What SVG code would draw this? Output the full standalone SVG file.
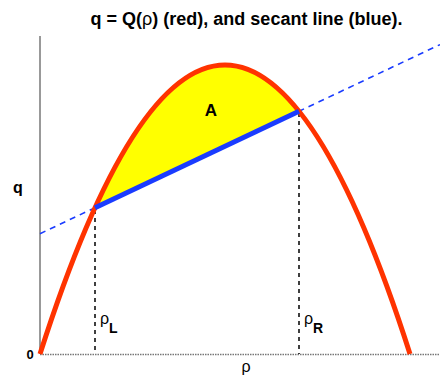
<svg xmlns="http://www.w3.org/2000/svg" width="440" height="379" viewBox="0 0 440 379">
<style>
text{font-family:"Liberation Sans",Arial,sans-serif;fill:#000}
.b{font-weight:bold}
.vd{stroke:#000;stroke-width:1.5;stroke-dasharray:4,4;fill:none}
</style>
<rect width="440" height="379" fill="#fff"/>
<g id="axes">
<line x1="40" y1="36" x2="40" y2="354" stroke="#777" stroke-width="1.5"/>
<line x1="40" y1="354.5" x2="440" y2="354.5" stroke="#777" stroke-width="1.5" stroke-dasharray="1.5,1"/>
</g>
<g id="area">
<path d="M95,207.7 Q197,-16.2 299,111.2 Z" fill="#ffff00"/>
</g>
<g id="connectors">
<line class="vd" x1="95" y1="210" x2="95" y2="354"/>
<line class="vd" x1="299" y1="113" x2="299" y2="354"/>
<line x1="40" y1="233.7" x2="440" y2="44.6" stroke="#1a3cff" stroke-width="1.6" stroke-dasharray="6,5"/>
<path id="curve" d="M40,354 Q225,-224 410,354" fill="none" stroke="#ff3300" stroke-width="5"/>
<line x1="95" y1="207.7" x2="299" y2="111.2" stroke="#1a3cff" stroke-width="5"/>
</g>
<g id="labels">
<text class="b" x="246.5" y="25" font-size="18" text-anchor="middle">q = Q(<tspan font-weight="normal">ρ</tspan>) (red), and secant line (blue).</text>
<text class="b" x="211" y="116" font-size="17" text-anchor="middle">A</text>
<text class="b" x="18" y="193" font-size="16" text-anchor="middle">q</text>
<text class="b" x="30" y="359" font-size="13" text-anchor="middle">0</text>
<text x="246" y="372" font-size="16" text-anchor="middle">ρ</text>
<text x="100" y="324" font-size="16">ρ<tspan class="b" font-size="14" dy="9">L</tspan></text>
<text x="304" y="324" font-size="16">ρ<tspan class="b" font-size="14" dy="9">R</tspan></text>
</g>
</svg>
